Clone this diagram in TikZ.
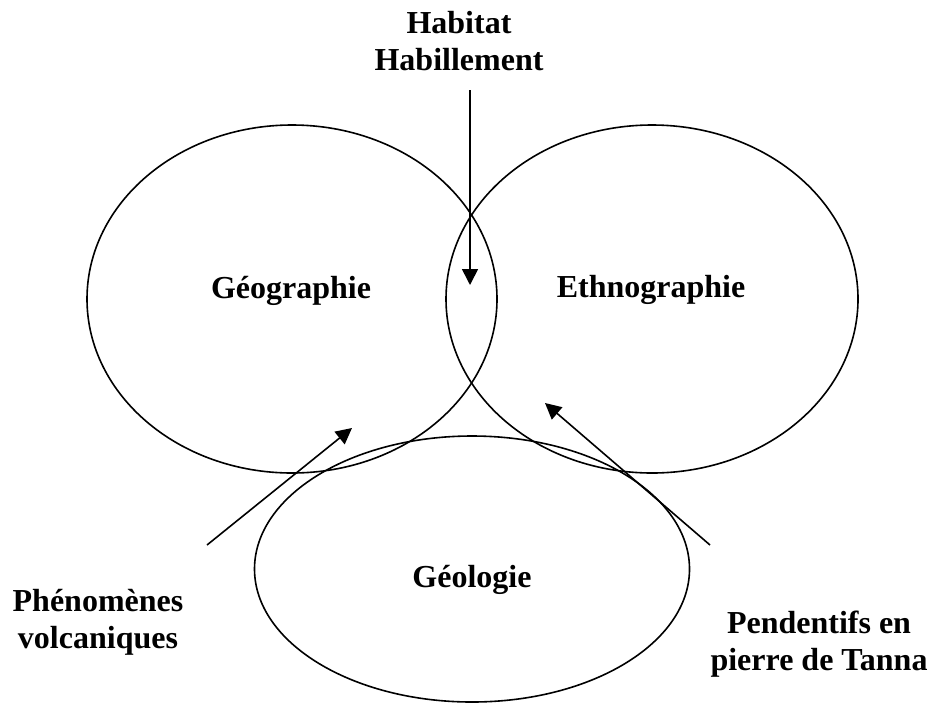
\documentclass[tikz,border=0pt]{standalone}
\usepackage{fontspec}
\setmainfont{Liberation Serif}
\usetikzlibrary{arrows.meta,shapes.geometric}

\tikzset{
    field/.style={ellipse, draw, line width=1.6pt, inner sep=0pt},
    tag/.style={font=\fontsize{32}{37}\selectfont\bfseries, align=center, inner sep=0pt, anchor=base},
    pointer/.style={line width=1.6pt, -{Triangle[length=16pt,width=16pt]}}
}

\begin{document}
\begin{tikzpicture}[x=1pt,y=-1pt]
        \useasboundingbox (0,0) rectangle (933,713);
        % Circles
        \node (geo) at (292,299) [field, minimum width=410pt, minimum height=348pt] {};
        \node (eth) at (652,299) [field, minimum width=412pt, minimum height=348pt] {};
        \node (gel) at (472,569) [field, minimum width=435pt, minimum height=266pt] {};
        % Labels (base = last line)
        \node (tgeo) at (291,298) [tag] {Géographie};
        \node (teth) at (651,297) [tag] {Ethnographie};
        \node (tgel) at (472,587) [tag] {Géologie};
        \node (thab) at (459,70) [tag] {Habitat\\Habillement};
        \node (tvol) at (98,648) [tag] {Phénomènes\\volcaniques};
        \node (tpen) at (819,670) [tag] {Pendentifs en\\pierre de Tanna};
        % Arrow ends
        \coordinate (s1) at (470,90);
        \coordinate (e1) at (470,285);
        \coordinate (s2) at (207,545);
        \coordinate (e2) at (352,428);
        \coordinate (s3) at (710,545);
        \coordinate (e3) at (545,403);
        % Arrows
        \foreach \i in {1,2,3} {
            \draw[pointer] (s\i) -- (e\i);
        }
    \end{tikzpicture}
\end{document}
